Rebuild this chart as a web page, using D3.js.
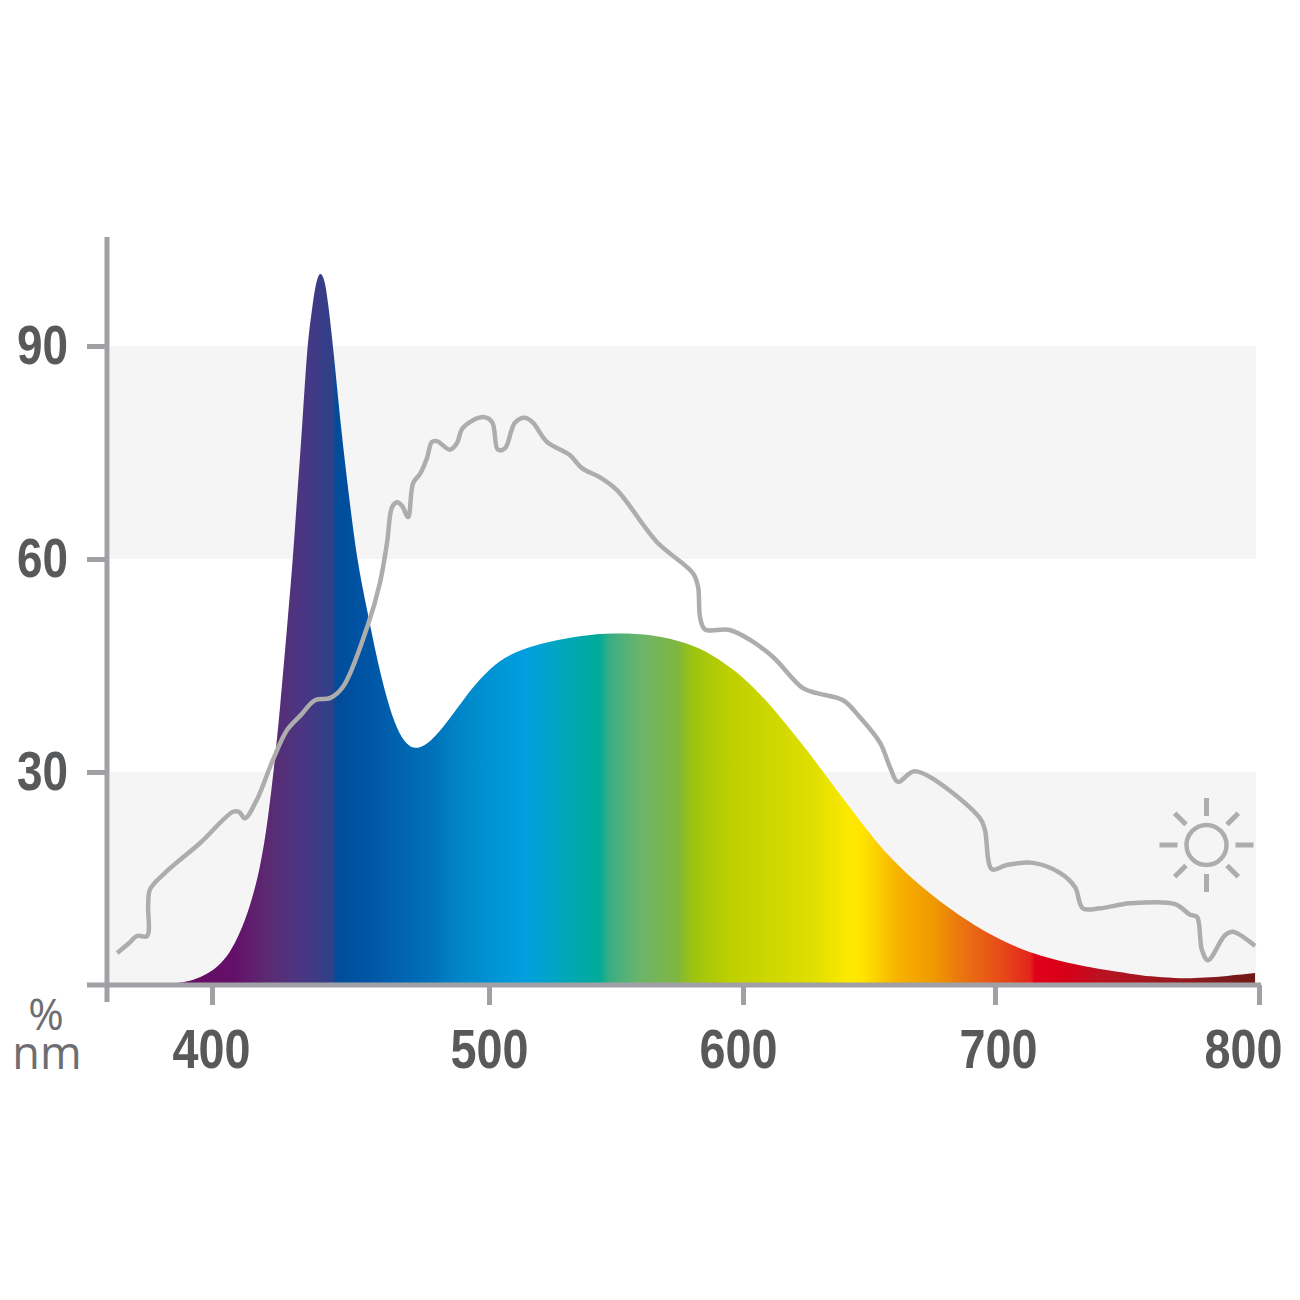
<!DOCTYPE html>
<html>
<head>
<meta charset="utf-8">
<script src="https://cdn.jsdelivr.net/npm/d3@7/dist/d3.min.js"></script>
<style>
	html, body { margin: 0; padding: 0; background: #fff; }
	svg { display: block; }
</style>
</head>
<body>
<svg width="1300" height="1300"></svg>
<script>
// led spectrum (nm / %)
var ledNm = [362.4,384.8,390.3,395.7,401.8,406.5,410.1,413.7,417.3,420.2,422.7,424.5,427.1,429.2,430.7,432.5,434.3,436.1,437.2,439,440.8,441.9,443.7,446.6,449.5,452.3,456,459.6,463.2,466.8,470.4,473.3,477.6,483.4,490.6,496.8,504.3,512.2,522.8,535.8,548.8,564.6,578,588.2,597.6,606.7,615.9,625.4,633.3,643.7,652.4,662.3,673,683.3,694,704.5,714.4,727.3,739.8,752,758.7,768,777.7,798.5];
var ledPct = [0.1,0.1,0.4,1,2.4,4.5,7.3,11,16.2,23.2,31.7,38.7,50.4,59.9,68.7,78.2,89.9,95.1,98.4,100.8,99.2,96.1,90.1,78.2,68.7,59.9,52.8,45.8,40.1,35.9,33.8,33.2,33.8,36.2,40.1,43.2,45.8,47.2,48.3,49.2,49.6,49.4,48.2,46.5,44.1,41.1,37.3,33.1,29.3,24.4,20.3,16.5,13.2,10.4,7.9,5.9,4.4,3.1,2.2,1.55,1.2,0.95,0.9,1.7];

// sunlight reference line
var sunNm = [365.7,369.7,372.9,376.5,376.9,377.6,383,395.7,407.6,409.7,411.9,416.2,422,427.1,431.8,437.2,442.6,447.3,456,460.6,463.2,465,466.8,468.6,470.8,472.6,475.1,477.6,479.4,481.2,485.9,488.4,490.6,497.8,501.2,503.5,506.3,510.2,514.2,517.3,522.8,531.9,536.6,543.7,550.4,566.1,580.3,582.3,583.1,585,594.8,602.8,611.9,623.8,629.4,639.7,646.4,654.4,658.3,661.5,668.3,694,696,698.8,704.5,714.4,724.6,730.3,733.3,739.8,751.1,768.2,773.9,776.5,778.4,780.7,787.1,790,798.5];
var sunPct = [4.5,5.8,6.9,6.9,11.3,13.5,15.8,20,24.4,24.4,23.5,26.1,31.7,35.9,37.9,40.1,40.4,42,50.4,56.6,62.3,67.3,68,67.5,65.9,70.7,72,74.2,76.5,76.6,75.4,76.3,78.5,80,79.3,75.4,75.6,79.2,79.9,79.2,76.5,74.6,72.8,71.5,69.7,62.4,58,56.1,51.8,50.1,50,48.6,46.2,41.8,41.1,40.1,37.7,34.1,30.7,28.6,30.1,23.5,21.8,16.3,16.9,17.2,15.8,13.8,10.8,10.8,11.5,11.4,9.9,9.6,4.9,3.5,7,7.5,5.5];

// rainbow under the led curve
var stopNm = [362,407.6,419.9,431.8,443.3,445.1,456,479.8,489.5,504.3,514.2,528,543.7,547.6,559.4,574,580.3,593.7,626.6,642.5,647.6,654.4,662.3,675.4,688.9,701.9,713.3,715.2,727.3,739.8,777.7,798.5];
var stopColors = ["#6c0a5e","#640f69","#5c2a72","#4c3582","#2f4089","#004c9b","#0055a5","#0072ba","#0086c8","#0096d6","#009fdf","#00a6bf","#00ab96","#3aae84","#6cb46b","#7eb63f","#9cc30f","#bccf00","#dede00","#fde900","#ffe400","#fbcb00","#f7b000","#ef9a00","#ea6f12","#e74c1a","#e3251c","#e2001a","#d60019","#bb1221","#8a1a1e","#6e1a18"];

var xTicks = [400,500,600,700,800];
var xLabelShift = [-1,0,-5,3,-16];
var yTicks = [30,60,90];
var bands = [[0,30],[60,90]];
var rayAngles = [0,45,90,135,180,225,270,315];

var axisColor = "#a0a1a4";
var labelColor = "#58595b";
var lineColor = "#adadad";
var labelFont = "'Liberation Sans',sans-serif";

var svg = d3.select("svg");

// the printed wavelength axis is not quite even, so piecewise
var x = d3.scaleLinear().domain([362,400,500,600,700,800]).range([107,212,489,743,995,1259]);
var y = d3.scaleLinear().domain([0,105]).range([985,239.5]);

var grad = svg.append("defs").append("linearGradient")
	.attr("id","rainbow")
	.attr("gradientUnits","userSpaceOnUse")
	.attr("x1",x(362)).attr("x2",x(800))
	.attr("y1",0).attr("y2",0);
grad.selectAll("stop").data(stopNm).enter().append("stop")
	.attr("offset",function(d){return (x(d)-x(362))/(x(800)-x(362))})
	.attr("stop-color",function(d,i){return stopColors[i]});

svg.selectAll("rect.band").data(bands).enter().append("rect")
	.attr("class","band")
	.attr("fill","#f5f5f6")
	.attr("x",110)
	.attr("width",1146)
	.attr("y",function(d){return y(d[1])})
	.attr("height",function(d){return y(d[0])-y(d[1])});

var area = d3.area()
	.x(function(d){return x(d)})
	.y0(y(0))
	.y1(function(d,i){return y(ledPct[i])})
	.curve(d3.curveBasis);
svg.append("path").attr("d",area(ledNm)).attr("fill","url(#rainbow)");

var line = d3.line()
	.x(function(d){return x(d)})
	.y(function(d,i){return y(sunPct[i])})
	.curve(d3.curveCatmullRom.alpha(0.5));
svg.append("path").attr("d",line(sunNm))
	.attr("fill","none")
	.attr("stroke",lineColor)
	.attr("stroke-width",4.5)
	.attr("stroke-linejoin","round");

// axes
var xAxis = d3.axisBottom(x).tickValues(xTicks).tickSize(20).tickPadding(24).tickSizeOuter(0);
var gx = svg.append("g").attr("transform","translate(0,"+y(0)+")").call(xAxis);
gx.select(".domain").remove();
gx.selectAll(".tick text")
	.attr("dx",function(d,i){return xLabelShift[i]})
	.attr("fill",labelColor)
	.attr("font-family",labelFont)
	.attr("font-weight","bold")
	.attr("font-size",55)
	.attr("textLength",78)
	.attr("lengthAdjust","spacingAndGlyphs");

var yAxis = d3.axisLeft(y).tickValues(yTicks).tickSize(20).tickPadding(19).tickSizeOuter(0);
var gy = svg.append("g").attr("transform","translate(107,0)").call(yAxis);
gy.select(".domain").remove();
gy.selectAll(".tick text")
	.attr("fill",labelColor)
	.attr("font-family",labelFont)
	.attr("font-weight","bold")
	.attr("font-size",55)
	.attr("textLength",51)
	.attr("lengthAdjust","spacingAndGlyphs");

svg.selectAll(".tick line").attr("stroke",axisColor).attr("stroke-width",5);

// base line, left axis and its short foot
svg.append("line").attr("x1",87).attr("x2",1261).attr("y1",y(0)).attr("y2",y(0)).attr("stroke",axisColor).attr("stroke-width",5);
svg.append("line").attr("x1",107).attr("x2",107).attr("y1",237).attr("y2",1002).attr("stroke",axisColor).attr("stroke-width",5);

var unit = svg.append("text")
	.attr("text-anchor","middle")
	.attr("fill","#6d6e71")
	.attr("font-family","'Open Sans',sans-serif");
unit.append("tspan").text("%").attr("x",46).attr("y",1030).attr("font-size",43);
unit.append("tspan").text("nm").attr("x",47).attr("y",1069).attr("font-size",45);

// sun icon
var sun = svg.append("g").attr("transform","translate(1206.5,845)");
sun.append("circle").attr("r",20).attr("fill","none").attr("stroke",lineColor).attr("stroke-width",4.5);
sun.selectAll("line").data(rayAngles).enter().append("line")
	.attr("x1",29).attr("x2",function(d){return d%90==0?47:45})
	.attr("transform",function(d){return "rotate("+d+")"})
	.attr("stroke",lineColor)
	.attr("stroke-width",5);
</script>
</body>
</html>
